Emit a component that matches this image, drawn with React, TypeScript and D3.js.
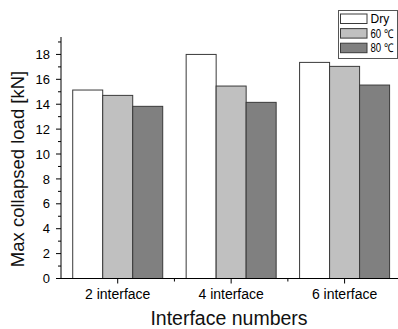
import React, { useRef, useEffect } from "react";
import * as d3 from "d3";

const groups = ["2 interface", "4 interface", "6 interface"];
const series = ["Dry", "60 ℃", "80 ℃"];
const dryValues = [15.14, 18.0, 17.36];
const c60Values = [14.71, 15.46, 17.04];
const c80Values = [13.83, 14.15, 15.54];
const yTicks = [0, 2, 4, 6, 8, 10, 12, 14, 16, 18];
const fills = ["#ffffff", "#c0c0c0", "#808080"];

const App = () => {
  const svgRef = useRef<SVGSVGElement>(null);

  useEffect(() => {
    const svg = d3.select(svgRef.current);
    svg.selectAll("*").remove();

    const font = "Liberation Sans, Arial, sans-serif";
    const left = 61,
      bottom = 278.5,
      top = 37;

    const x = d3.scaleBand().domain(groups).range([left, 401.3]).padding(0);
    const inner = d3.scaleBand().domain(series).range([0, 90]).padding(0);
    const y = d3.scaleLinear().domain([0, 19.4]).range([bottom, top]);

    const table = groups.map((g, i) => ({
      group: g,
      vals: [dryValues[i], c60Values[i], c80Values[i]],
    }));

    // bars
    const g = svg
      .selectAll("g.grp")
      .data(table)
      .enter()
      .append("g")
      .attr("class", "grp")
      .attr("transform", (d) => `translate(${x(d.group)! + (x.bandwidth() - 90) / 2},0)`);

    g.selectAll("rect")
      .data((d) => d.vals.map((v, j) => ({ key: series[j], v, j })))
      .enter()
      .append("rect")
      .attr("x", (d) => inner(d.key)!)
      .attr("y", (d) => y(d.v))
      .attr("width", inner.bandwidth())
      .attr("height", (d) => bottom - y(d.v))
      .attr("fill", (d) => fills[d.j])
      .attr("stroke", "#3a3a3a")
      .attr("stroke-width", 1);

    // y axis, major + minor ticks on the left
    const yAxis = svg.append("g").attr("transform", `translate(${left},0)`);
    yAxis
      .append("line")
      .attr("x1", 0)
      .attr("x2", 0)
      .attr("y1", top)
      .attr("y2", bottom)
      .attr("stroke", "#000");
    yAxis
      .selectAll("line.maj")
      .data(yTicks)
      .enter()
      .append("line")
      .attr("class", "maj")
      .attr("x1", -5)
      .attr("x2", 0)
      .attr("y1", (d) => y(d))
      .attr("y2", (d) => y(d))
      .attr("stroke", "#000");
    yAxis
      .selectAll("line.min")
      .data(d3.range(1, 20, 2))
      .enter()
      .append("line")
      .attr("class", "min")
      .attr("x1", -3)
      .attr("x2", 0)
      .attr("y1", (d) => y(d))
      .attr("y2", (d) => y(d))
      .attr("stroke", "#000");
    yAxis
      .selectAll("text")
      .data(yTicks)
      .enter()
      .append("text")
      .attr("x", -11)
      .attr("y", (d) => y(d))
      .attr("dy", "0.36em")
      .attr("text-anchor", "end")
      .style("font-family", font)
      .style("font-size", "13px")
      .attr("fill", "#000")
      .text((d) => d);

    // x axis
    const xAxis = svg.append("g").attr("transform", `translate(0,${bottom})`);
    xAxis
      .append("line")
      .attr("x1", left)
      .attr("x2", 400)
      .attr("stroke", "#000");
    xAxis
      .selectAll("line.maj")
      .data(groups)
      .enter()
      .append("line")
      .attr("x1", (d) => x(d)! + x.bandwidth() / 2)
      .attr("x2", (d) => x(d)! + x.bandwidth() / 2)
      .attr("y1", 0)
      .attr("y2", 5)
      .attr("stroke", "#000");
    xAxis
      .selectAll("line.min")
      .data(groups.slice(1))
      .enter()
      .append("line")
      .attr("x1", (d) => x(d)!)
      .attr("x2", (d) => x(d)!)
      .attr("y1", 0)
      .attr("y2", 3)
      .attr("stroke", "#000");
    xAxis
      .selectAll("text")
      .data(groups)
      .enter()
      .append("text")
      .attr("x", (d) => x(d)! + x.bandwidth() / 2)
      .attr("y", 20)
      .attr("text-anchor", "middle")
      .style("font-family", font)
      .style("font-size", "14px")
      .attr("fill", "#000")
      .text((d) => d);

    // axis titles
    svg
      .append("text")
      .attr("x", 229)
      .attr("y", 324.5)
      .attr("text-anchor", "middle")
      .style("font-family", font)
      .style("font-size", "19.5px")
      .attr("fill", "#111")
      .text("Interface numbers");

    svg
      .append("text")
      .attr("transform", "translate(24,169) rotate(-90)")
      .attr("text-anchor", "middle")
      .style("font-family", font)
      .style("font-size", "18.5px")
      .attr("fill", "#111")
      .text("Max collapsed load [kN]");

    // legend
    const legend = svg.append("g");
    legend
      .append("rect")
      .attr("x", 338.5)
      .attr("y", 10.5)
      .attr("width", 59)
      .attr("height", 48)
      .attr("fill", "#fff")
      .attr("stroke", "#555");
    const item = legend
      .selectAll("g.item")
      .data(series)
      .enter()
      .append("g")
      .attr("transform", (d, i) => `translate(340.5,${14 + i * 14.6})`);
    item
      .append("rect")
      .attr("width", 26.5)
      .attr("height", 9.5)
      .attr("fill", (d, i) => fills[i])
      .attr("stroke", "#3a3a3a");
    item
      .append("text")
      .attr("x", 30)
      .attr("y", 5)
      .attr("dy", "0.35em")
      .style("font-family", font)
      .style("font-size", "12px")
      .attr("fill", "#000")
      .attr("textLength", (d, i) => (i === 0 ? null : 23))
      .attr("lengthAdjust", "spacingAndGlyphs")
      .text((d) => d);
  }, []);

  return (
    <svg
      ref={svgRef}
      width={398}
      height={329}
      style={{ position: "absolute", left: 0, top: 0, background: "#fff" }}
    ></svg>
  );
};

export default App;
